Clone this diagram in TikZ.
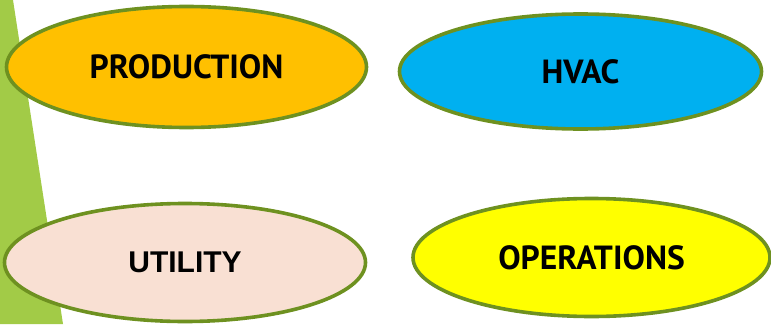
\documentclass[tikz,border=0pt]{standalone}
\usepackage{fontspec}
\setmainfont{PT Sans}
\newfontfamily\arialfont{Liberation Sans}
\usetikzlibrary{shapes.geometric}

\definecolor{barGreen}{HTML}{A2CB47}
\definecolor{rimGreen}{HTML}{6E9120}
\definecolor{prodOrange}{HTML}{FFC000}
\definecolor{hvacBlue}{HTML}{00B0F0}
\definecolor{utilPeach}{HTML}{F9E0D3}
\definecolor{opsYellow}{HTML}{FFFF00}

\begin{document}
\begin{tikzpicture}[x=1pt,y=-1pt,
  dept/.style={ellipse,draw=rimGreen,line width=3.6pt,inner sep=0pt,
    font=\bfseries\fontsize{33.5}{33.5}\selectfont}]
\useasboundingbox (0,0) rectangle (771,324);

% green band on the left
\fill[barGreen] (0,0) -- (13,0) -- (63,324) -- (0,324) -- cycle;

\node[dept,fill=prodOrange,minimum width=360,minimum height=121] (prod) at (186.5,67) {PRODUCTION};
\node[dept,fill=hvacBlue,minimum width=362,minimum height=115] (hvac) at (580.5,71.5) {HVAC};
\node[dept,fill=utilPeach,minimum width=361,minimum height=118,
  font=\arialfont\bfseries\fontsize{30}{30}\selectfont] (util) at (185,262.5) {UTILITY};
\node[dept,fill=opsYellow,minimum width=357,minimum height=118] (ops) at (591.5,257.5) {OPERATIONS};
\end{tikzpicture}
\end{document}
